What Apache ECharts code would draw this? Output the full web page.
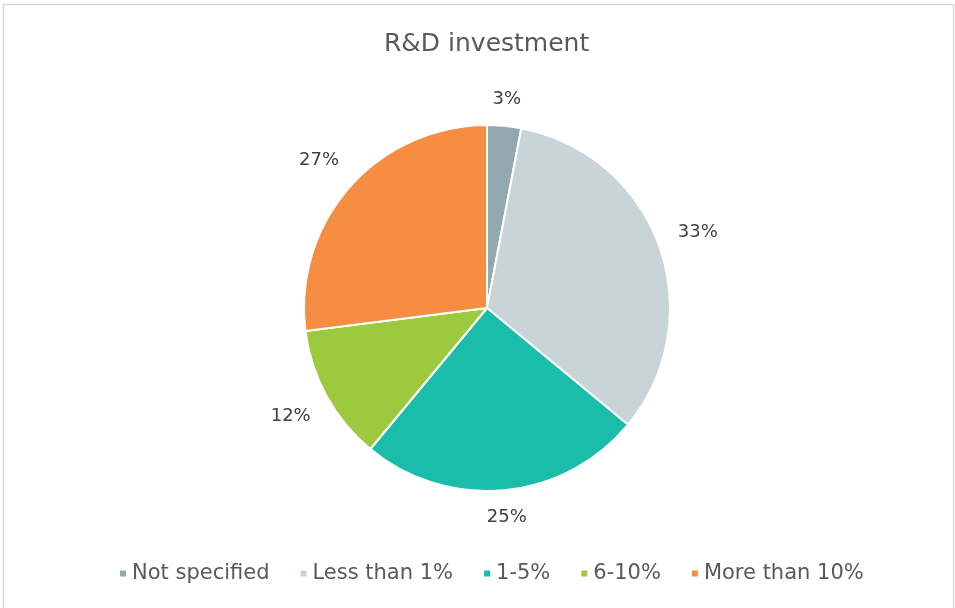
<!DOCTYPE html>
<html>
<head>
<meta charset="utf-8">
<title>R&amp;D investment</title>
<script src="https://cdn.jsdelivr.net/npm/echarts@6/dist/echarts.min.js"></script>
<style>
  html, body { margin: 0; padding: 0; background: #ffffff; }
  #chart { width: 955px; height: 608px; }
</style>
</head>
<body>
<div id="chart"></div>
<script>
// Share of companies by R&D investment bracket (percent)
const categories = ['Not specified', 'Less than 1%', '1-5%', '6-10%', 'More than 10%'];
const shares = [3, 33, 25, 12, 27];
const sliceColors = ['#91a8ae', '#c9d4d8', '#1abcaa', '#9dc93e', '#f58d42'];

const CENTER = [487, 308];
const total = shares.reduce((a, b) => a + b, 0);

// Mid-angle of each slice (clockwise from 12 o'clock); labels of slices pointing
// roughly up or down sit a little closer to the pie than those on the sides.
let acc = 0;
const nearVertical = shares.map(v => {
  const mid = (acc + v / 2) / total * 2 * Math.PI;
  acc += v;
  return Math.abs(Math.sin(mid)) < 0.5;
});

const pieData = categories.map((name, i) => ({
  name: name,
  value: shares[i],
  itemStyle: { color: sliceColors[i] }
}));

const labelStyle = {
  show: true,
  position: 'inside',
  formatter: '{c}%',
  fontFamily: 'DejaVu Sans',
  fontSize: 18,
  color: '#404040'
};

// transparent ring carrying the percentage labels of the selected slices
function labelRing(radius, useVertical) {
  return {
    type: 'pie',
    center: CENTER,
    radius: radius,
    startAngle: 90,
    clockwise: true,
    silent: true,
    itemStyle: { color: 'rgba(0,0,0,0)', borderWidth: 0 },
    label: labelStyle,
    labelLine: { show: false },
    emphasis: { disabled: true },
    data: categories.map((name, i) => ({
      name: name,
      value: shares[i],
      label: { show: nearVertical[i] === useVertical }
    }))
  };
}

const chart = echarts.init(document.getElementById('chart'), null, { renderer: 'canvas' });

chart.setOption({
  animation: false,
  backgroundColor: '#ffffff',
  title: {
    text: 'R&D investment',
    left: 379,
    top: 27,
    textStyle: {
      fontFamily: 'DejaVu Sans',
      fontWeight: 'normal',
      fontSize: 25,
      color: '#595959'
    }
  },
  legend: {
    data: categories,
    left: 113,
    top: 558,
    icon: 'rect',
    itemWidth: 8,
    itemHeight: 8,
    itemGap: 29,
    selectedMode: false,
    textStyle: {
      fontFamily: 'DejaVu Sans',
      fontSize: 21,
      color: '#595959'
    }
  },
  graphic: [{
    type: 'rect',
    silent: true,
    shape: { x: 3.5, y: 4.5, width: 950, height: 620 },
    style: { fill: 'none', stroke: '#d9d9d9', lineWidth: 1.5 }
  }],
  series: [
    {
      type: 'pie',
      center: CENTER,
      radius: 183,
      startAngle: 90,
      clockwise: true,
      silent: true,
      itemStyle: { borderColor: '#ffffff', borderWidth: 2 },
      label: { show: false },
      labelLine: { show: false },
      emphasis: { disabled: true },
      data: pieData
    },
    labelRing([190, 224], true),
    labelRing([204, 238], false)
  ]
});
</script>
</body>
</html>
